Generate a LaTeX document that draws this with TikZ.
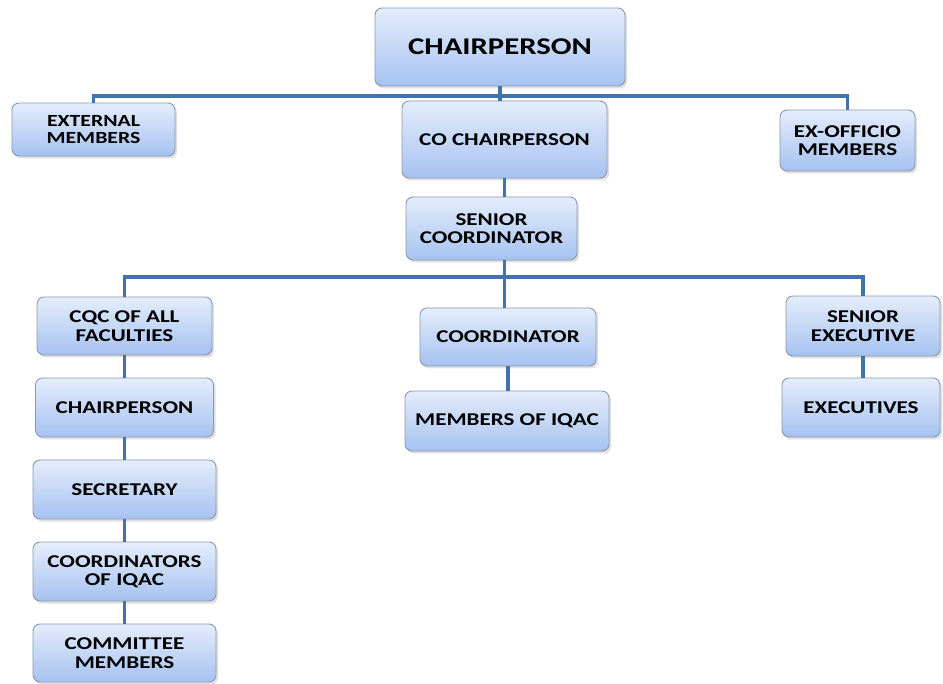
\documentclass[tikz,border=0pt]{standalone}
\usepackage{fontspec}
\setmainfont[FakeStretch=1.28]{Carlito}
\usetikzlibrary{shadows}
\definecolor{boxtop}{HTML}{E4EDFC}
\definecolor{boxbot}{HTML}{A6C2F0}
\definecolor{boxline}{HTML}{8C99AC}
\definecolor{conn}{HTML}{4272AC}
\tikzset{
  orgbox/.style={rectangle, rounded corners=7pt, draw=boxline, line width=0.9pt,
    top color=boxtop, bottom color=boxbot, inner sep=0pt, align=center,
    font=\fontsize{18}{18.5}\selectfont\bfseries,
    drop shadow={shadow xshift=2pt, shadow yshift=-2.5pt, opacity=0.25, fill=gray}},
  bigtxt/.style={font=\fontsize{24}{25}\selectfont\bfseries},
  smalltxt/.style={font=\fontsize{17}{17.5}\selectfont\bfseries},
  link/.style={draw=conn, line width=3.5pt}
}
\begin{document}
\begin{tikzpicture}[x=1pt,y=-1pt]
\useasboundingbox (0,0) rectangle (943,684);
\node[orgbox,bigtxt,minimum width=250pt,minimum height=78pt] (chair) at (500,47) {CHAIRPERSON};
\node[orgbox,smalltxt,minimum width=163pt,minimum height=53pt] (ext) at (93.5,129.5) {EXTERNAL\\MEMBERS};
\node[orgbox,minimum width=205pt,minimum height=77pt] (co) at (504.5,139.5) {CO CHAIRPERSON};
\node[orgbox,minimum width=135pt,minimum height=61pt] (exo) at (847.5,140.5) {EX-OFFICIO\\MEMBERS};
\node[orgbox,minimum width=171pt,minimum height=63pt] (sc) at (491.5,228.5) {SENIOR\\COORDINATOR};
\node[orgbox,minimum width=175pt,minimum height=58pt] (cqc) at (124.5,326) {CQC OF ALL\\FACULTIES};
\node[orgbox,minimum width=176pt,minimum height=58pt] (coord) at (508,337) {COORDINATOR};
\node[orgbox,minimum width=154pt,minimum height=60pt] (sexec) at (863,326) {SENIOR\\EXECUTIVE};
\node[orgbox,minimum width=178pt,minimum height=59pt] (lchair) at (124.5,407.5) {CHAIRPERSON};
\node[orgbox,minimum width=204pt,minimum height=60pt] (miqac) at (507,421) {MEMBERS OF IQAC};
\node[orgbox,minimum width=158pt,minimum height=59pt] (execs) at (861,407.5) {EXECUTIVES};
\node[orgbox,minimum width=183pt,minimum height=59pt] (sec) at (124.5,489.5) {SECRETARY};
\node[orgbox,minimum width=183pt,minimum height=59pt] (coiqac) at (124.5,571.5) {COORDINATORS\\OF IQAC};
\node[orgbox,minimum width=183pt,minimum height=58pt] (comm) at (124.5,653) {COMMITTEE\\MEMBERS};
\coordinate (busA) at (0,96);
\coordinate (busB) at (0,277);
\path[link] (ext.north) -- (ext.north |- busA) -- (exo.north |- busA) -- (exo.north);
\path[link] (chair.south) -- (chair.south |- co.north);
\path[link] (co.south) -- (co.south |- sc.north);
\path[link] (co.south |- sc.south) -- (co.south |- coord.north);
\path[link] (cqc.north) -- (cqc.north |- busB) -- (sexec.north |- busB) -- (sexec.north);
\path[link] (cqc.south) -- (lchair.north);
\path[link] (lchair.south) -- (sec.north);
\path[link] (sec.south) -- (coiqac.north);
\path[link] (coiqac.south) -- (comm.north);
\path[link] (coord.south) -- (coord.south |- miqac.north);
\path[link] (sexec.south) -- (sexec.south |- execs.north);
\end{tikzpicture}
\end{document}
